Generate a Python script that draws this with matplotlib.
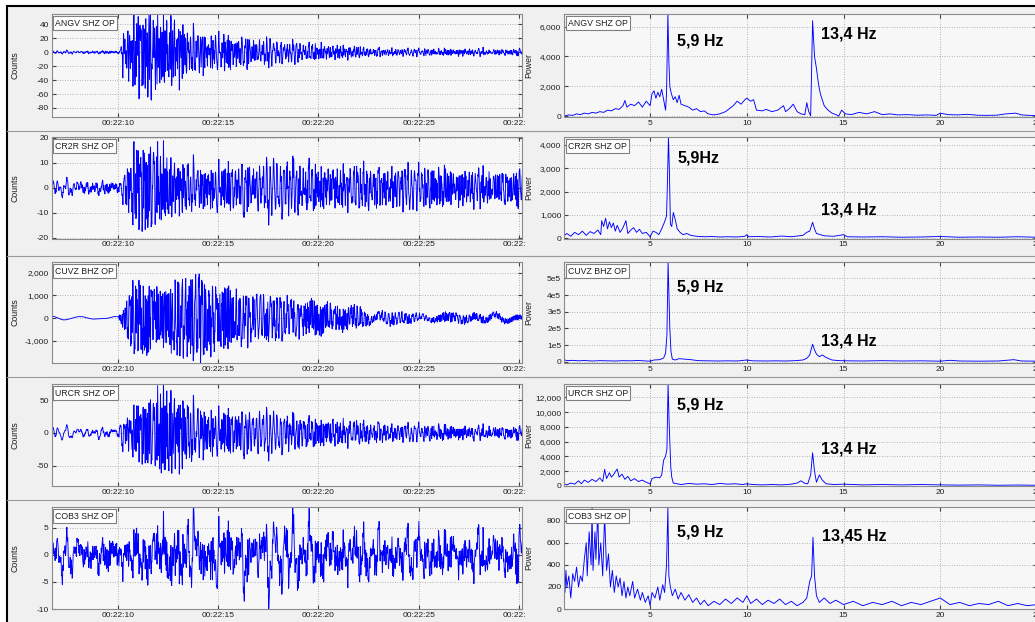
import numpy as np
import matplotlib
matplotlib.use("Agg")
import matplotlib.pyplot as plt
import matplotlib.transforms as mtransforms
from matplotlib.ticker import FixedLocator, FuncFormatter
from matplotlib.patches import Rectangle
from matplotlib.lines import Line2D

plt.rcParams['font.family'] = ['Liberation Sans', 'DejaVu Sans']
plt.rcParams['axes.unicode_minus'] = False

# ---------------------------------------------------------------- data
STATIONS = ["ANGV SHZ OP", "CR2R SHZ OP", "CUVZ BHZ OP", "URCR SHZ OP", "COB3 SHZ OP"]
PEAK_F1 = [5.9, 5.9, 5.9, 5.9, 5.9]
PEAK_F2 = [13.4, 13.4, 13.4, 13.4, 13.45]
PEAK_TXT1 = ["5,9 Hz", "5,9Hz", "5,9 Hz", "5,9 Hz", "5,9 Hz"]
PEAK_TXT2 = ["13,4 Hz", "13,4 Hz", "13,4 Hz", "13,4 Hz", "13,45 Hz"]

# time axis: seconds after 00:22:00
TIME_TICKS = [10, 15, 20, 25, 30]
FREQ_TICKS = [5, 10, 15, 20, 25]

COUNT_TICKS = [[-80, -60, -40, -20, 0, 20, 40],
               [-20, -10, 0, 10, 20],
               [-1000, 0, 1000, 2000],
               [-50, 0, 50],
               [-10, -5, 0, 5]]
POWER_TICKS = [[0, 2000, 4000, 6000],
               [0, 1000, 2000, 3000, 4000],
               [0, 1e5, 2e5, 3e5, 4e5, 5e5],
               [0, 2000, 4000, 6000, 8000, 10000, 12000],
               [0, 200, 400, 600, 800]]

# power spectra (frequency in Hz, power)
SPEC_ANGV = [(0.55, 0), (0.8, 80), (1.0, 50), (1.2, 150), (1.4, 100), (1.6, 200), (1.8, 150),
             (2.0, 250), (2.2, 200), (2.4, 300), (2.6, 250), (2.8, 400), (3.0, 350), (3.2, 500),
             (3.4, 450), (3.6, 700), (3.7, 1050), (3.8, 600), (4.0, 800), (4.2, 700), (4.4, 950),
             (4.6, 600), (4.8, 1000), (5.0, 700), (5.1, 1500), (5.2, 1700), (5.3, 1200), (5.4, 1600),
             (5.5, 1300), (5.6, 1800), (5.7, 1100), (5.8, 400), (5.85, 1500), (5.92, 6900),
             (5.97, 3700), (6.02, 2000), (6.1, 1500), (6.2, 1100), (6.3, 1300), (6.4, 900),
             (6.5, 1400), (6.6, 800), (6.8, 700), (7.0, 600), (7.2, 400), (7.4, 500), (7.6, 300),
             (7.8, 350), (8.0, 150), (8.3, 80), (8.6, 150), (8.9, 300), (9.1, 500), (9.3, 700),
             (9.5, 1000), (9.7, 800), (9.9, 1100), (10.0, 1200), (10.2, 1000), (10.35, 1100),
             (10.5, 400), (10.8, 350), (11.0, 450), (11.3, 300), (11.6, 400), (11.9, 700),
             (12.0, 300), (12.2, 500), (12.4, 800), (12.6, 300), (12.8, 150), (13.0, 100),
             (13.1, 900), (13.2, 300), (13.3, 20), (13.4, 6400), (13.5, 4000), (13.6, 3200),
             (13.7, 2200), (13.8, 1500), (14.0, 700), (14.2, 400), (14.4, 200), (14.6, 100),
             (14.75, 0), (14.9, 400), (15.1, 150), (15.4, 100), (15.8, 250), (16.2, 150),
             (16.6, 300), (17.0, 100), (17.4, 150), (17.8, 80), (18.3, 100), (18.8, 60),
             (19.3, 80), (19.8, 50), (20.0, 200), (20.4, 100), (20.9, 80), (21.4, 120),
             (21.9, 60), (22.4, 50), (22.9, 60), (23.4, 150), (23.9, 200), (24.2, 80),
             (24.6, 50), (25.0, 40)]
SPEC_CR2R = [(0.55, 100), (0.7, 200), (0.9, 80), (1.1, 250), (1.3, 150), (1.5, 300), (1.7, 120),
             (1.9, 280), (2.1, 200), (2.3, 350), (2.45, 150), (2.5, 750), (2.6, 500), (2.7, 850),
             (2.8, 400), (2.9, 700), (3.0, 450), (3.1, 650), (3.2, 300), (3.3, 550), (3.45, 250),
             (3.6, 450), (3.75, 750), (3.85, 200), (4.0, 350), (4.15, 450), (4.3, 250), (4.45, 380),
             (4.6, 200), (4.8, 250), (5.0, 60), (5.15, 300), (5.3, 250), (5.45, 150), (5.6, 400),
             (5.75, 700), (5.85, 950), (5.9, 2500), (5.95, 4340), (6.0, 2800), (6.05, 600),
             (6.12, 500), (6.2, 1100), (6.3, 800), (6.4, 400), (6.55, 250), (6.7, 150), (6.9, 200),
             (7.1, 120), (7.4, 80), (7.8, 60), (8.2, 70), (8.6, 50), (9.0, 60), (9.5, 50),
             (9.9, 80), (10.0, 150), (10.1, 60), (10.6, 70), (11.2, 50), (11.8, 90), (12.3, 60),
             (12.7, 100), (12.9, 120), (13.1, 250), (13.25, 300), (13.4, 680), (13.5, 400),
             (13.6, 200), (13.8, 150), (14.0, 100), (14.5, 80), (15.0, 150), (15.2, 60),
             (16.0, 50), (17.0, 60), (18.0, 40), (19.0, 50), (20.0, 70), (21.0, 40), (22.0, 50),
             (23.0, 40), (24.0, 60), (25.0, 40)]
SPEC_CUVZ = [(0.55, 12000), (0.7, 6000), (1.0, 8000), (1.3, 5000), (1.6, 7000), (2.0, 4000),
             (2.4, 6000), (2.8, 5000), (3.2, 4000), (3.6, 6000), (4.0, 5000), (4.4, 7000),
             (4.8, 4000), (5.0, 3000), (5.2, 10000), (5.5, 12000), (5.7, 22000), (5.8, 50000),
             (5.87, 160000), (5.93, 598000), (5.97, 420000), (6.02, 200000), (6.08, 60000),
             (6.15, 15000), (6.3, 10000), (6.5, 18000), (6.8, 15000), (7.1, 12000), (7.5, 6000),
             (8.0, 5000), (8.5, 4000), (9.0, 5000), (9.5, 4000), (10.0, 10000), (10.3, 5000),
             (11.0, 4000), (11.5, 5000), (12.0, 4000), (12.5, 6000), (12.9, 10000), (13.1, 20000),
             (13.25, 40000), (13.4, 105000), (13.5, 70000), (13.6, 45000), (13.75, 30000),
             (13.9, 40000), (14.1, 25000), (14.4, 10000), (14.8, 6000), (15.2, 5000), (16.0, 4000),
             (17.0, 6000), (18.0, 4000), (19.0, 5000), (20.0, 3000), (20.5, 8000), (21.0, 4000),
             (22.0, 3000), (23.0, 4000), (23.8, 12000), (24.2, 4000), (25.0, 3000)]
SPEC_URCR = [(0.55, 300), (0.7, 150), (0.9, 400), (1.1, 250), (1.3, 700), (1.45, 300), (1.6, 800),
             (1.8, 500), (2.0, 900), (2.2, 600), (2.4, 1100), (2.55, 600), (2.65, 2250),
             (2.75, 1000), (2.9, 1800), (3.0, 1200), (3.1, 1500), (3.3, 2300), (3.4, 1200),
             (3.55, 1600), (3.7, 900), (3.85, 1300), (4.0, 700), (4.2, 1000), (4.4, 600),
             (4.6, 800), (4.8, 500), (5.0, 300), (5.1, 1000), (5.3, 1200), (5.5, 1100),
             (5.6, 1500), (5.7, 3500), (5.8, 4000), (5.87, 5000), (5.93, 13800), (5.98, 9000),
             (6.02, 6000), (6.07, 2500), (6.12, 1200), (6.2, 400), (6.4, 300), (6.6, 200),
             (7.0, 350), (7.4, 250), (7.8, 300), (8.2, 200), (8.6, 350), (9.0, 250), (9.4, 300),
             (9.8, 200), (10.0, 300), (10.3, 200), (10.8, 150), (11.3, 200), (11.8, 150),
             (12.3, 250), (12.6, 400), (12.8, 700), (13.0, 350), (13.15, 300), (13.3, 1500),
             (13.4, 4500), (13.5, 2000), (13.6, 500), (13.75, 1500), (13.9, 800), (14.1, 300),
             (14.5, 200), (15.0, 250), (16.0, 150), (17.0, 200), (18.0, 150), (19.0, 200),
             (20.0, 150), (21.0, 120), (22.0, 150), (23.0, 100), (24.0, 130), (25.0, 100)]
SPEC_COB3 = [(0.55, 550), (0.6, 150), (0.65, 350), (0.7, 200), (0.8, 300), (0.9, 100), (1.0, 320),
             (1.1, 250), (1.2, 380), (1.3, 200), (1.4, 300), (1.5, 250), (1.6, 450), (1.7, 600),
             (1.75, 300), (1.85, 700), (1.95, 400), (2.0, 920), (2.05, 350), (2.15, 700),
             (2.2, 450), (2.3, 900), (2.35, 400), (2.45, 600), (2.55, 300), (2.65, 850),
             (2.75, 350), (2.85, 500), (2.95, 200), (3.05, 350), (3.15, 150), (3.25, 300),
             (3.35, 200), (3.45, 280), (3.55, 120), (3.65, 250), (3.75, 100), (3.85, 200),
             (3.95, 120), (4.1, 250), (4.2, 100), (4.35, 180), (4.5, 80), (4.6, 150), (4.75, 60),
             (4.9, 120), (5.0, 30), (5.1, 150), (5.25, 100), (5.4, 200), (5.5, 80), (5.65, 220),
             (5.75, 150), (5.85, 400), (5.92, 920), (5.97, 300), (6.05, 200), (6.15, 120),
             (6.3, 180), (6.45, 90), (6.6, 150), (6.8, 80), (7.0, 130), (7.2, 60), (7.4, 100),
             (7.6, 40), (7.8, 80), (8.0, 30), (8.3, 70), (8.6, 40), (8.9, 90), (9.2, 50),
             (9.5, 100), (9.8, 60), (10.0, 120), (10.2, 50), (10.5, 90), (10.8, 40), (11.1, 80),
             (11.4, 50), (11.7, 90), (12.0, 40), (12.3, 70), (12.6, 30), (12.9, 60), (13.1, 100),
             (13.25, 250), (13.35, 300), (13.42, 650), (13.5, 300), (13.6, 120), (13.75, 60),
             (14.0, 100), (14.3, 50), (14.6, 80), (15.0, 40), (15.5, 70), (16.0, 30), (16.5, 60),
             (17.0, 40), (17.5, 70), (18.0, 30), (18.5, 60), (19.0, 40), (19.5, 70), (20.0, 100),
             (20.5, 40), (21.0, 60), (21.5, 30), (22.0, 50), (22.5, 40), (23.0, 70), (23.5, 30),
             (24.0, 50), (24.5, 30), (25.0, 40)]
SPECTRA = [SPEC_ANGV, SPEC_CR2R, SPEC_CUVZ, SPEC_URCR, SPEC_COB3]

# amplitude envelopes of the seismograms (seconds after 00:22:00, counts)
# "low" = long-period band, "high" = band around the dominant frequencies
LOW_ENV_ANGV = [(6.7, 2), (30.2, 2)]
HIGH_ENV_ANGV = [(6.7, 2), (10.1, 2), (10.25, 35), (10.6, 45), (11.2, 60), (11.6, 70), (12.2, 50),
                 (13.0, 50), (13.8, 45), (14.5, 35), (15.2, 30), (16.0, 25), (17.0, 20), (18.0, 17),
                 (19.0, 15), (20.0, 13), (21.0, 11), (22.0, 9), (23.0, 7), (24.0, 6), (26.0, 5),
                 (28.0, 5), (30.2, 4)]
LOW_ENV_CR2R = [(6.7, 3), (10.2, 3), (11.0, 4), (15.0, 3), (30.2, 2)]
HIGH_ENV_CR2R = [(6.7, 2), (10.2, 2), (10.4, 10), (10.8, 15), (11.3, 18), (11.8, 20), (12.4, 15),
                 (13.0, 11), (14.0, 11), (15.0, 10), (18.0, 10), (21.0, 9), (24.0, 9), (27.0, 8),
                 (30.2, 7)]
LOW_ENV_CUVZ = [(6.7, 150), (10.0, 150), (20.0, 150), (30.2, 200)]
HIGH_ENV_CUVZ = [(6.7, 0), (10.0, 0), (10.3, 500), (10.7, 1600), (11.2, 1800), (11.7, 1500),
                 (12.3, 1300), (13.0, 1800), (13.7, 2100), (14.3, 1800), (15.0, 1500), (16.0, 1300),
                 (17.0, 1100), (18.0, 950), (19.0, 800), (20.0, 700), (21.0, 600), (22.0, 500),
                 (22.8, 150), (23.5, 300), (24.5, 250), (25.5, 100), (26.5, 250), (27.5, 200),
                 (28.5, 150), (30.2, 100)]
LOW_ENV_URCR = [(6.7, 12), (10.2, 12), (12.0, 10), (30.2, 5)]
HIGH_ENV_URCR = [(6.7, 3), (10.0, 3), (10.3, 25), (10.8, 35), (11.3, 50), (11.8, 65), (12.2, 75),
                 (12.8, 65), (13.5, 55), (14.2, 45), (15.0, 38), (16.0, 35), (17.0, 30), (18.0, 28),
                 (19.0, 25), (20.0, 22), (21.0, 20), (22.0, 18), (23.0, 15), (24.0, 13), (25.0, 12),
                 (27.0, 10), (30.2, 8)]
LOW_ENV_COB3 = [(6.7, 3.5), (10.0, 3), (11.0, 3.5), (12.0, 5), (13.0, 6), (14.0, 6.5), (15.0, 6),
                (16.0, 5), (18.0, 4.5), (20.0, 4.5), (25.0, 4), (30.2, 4)]
HIGH_ENV_COB3 = [(6.7, 2.5), (10.0, 2.5), (12.0, 4), (14.0, 5), (16.0, 4), (20.0, 3.5),
                 (30.2, 3)]
LOW_ENVS = [LOW_ENV_ANGV, LOW_ENV_CR2R, LOW_ENV_CUVZ, LOW_ENV_URCR, LOW_ENV_COB3]
HIGH_ENVS = [HIGH_ENV_ANGV, HIGH_ENV_CR2R, HIGH_ENV_CUVZ, HIGH_ENV_URCR, HIGH_ENV_COB3]
BAND_SPLIT = [4.5, 4.5, 1.2, 4.5, 4.5]      # Hz
REGULARITY = [0.3, 0.5, 0.7, 0.5, 0.2]      # how strongly the high band follows its envelope

SAMPLE_RATE = 100.0
T_START, T_END = 6.7, 30.2


# ---------------------------------------------------------------- synthesis
def band_carrier(spec, t, fmin, fmax):
    """Sum of cosines whose amplitudes follow the power spectrum in [fmin, fmax)."""
    f_sp, p_sp = (np.asarray(v, float) for v in zip(*spec))
    fg = np.arange(0.5, 25.0, 0.02)
    fg = fg[(fg >= fmin) & (fg < fmax)]
    amp = np.sqrt(np.clip(np.interp(fg, f_sp, p_sp), 0, None))
    k = np.arange(fg.size, dtype=float)
    phase = 2 * np.pi * np.modf(k ** 3 * 0.00713 + k ** 2 * 0.1131)[0]
    return (amp[:, None] * np.cos(2 * np.pi * fg[:, None] * t[None, :] + phase[:, None])).sum(0)


def analytic_envelope(x):
    n = x.size
    h = np.zeros(n)
    h[0] = 1
    if n % 2 == 0:
        h[n // 2] = 1
        h[1:n // 2] = 2
    else:
        h[1:(n + 1) // 2] = 2
    return np.abs(np.fft.ifft(np.fft.fft(x) * h))


def normalise(c, power):
    if power > 0:
        c = c / analytic_envelope(c) ** power
    return c / np.percentile(np.abs(c), 98.5)


def envelope(points, t):
    tt, aa = (np.asarray(v, float) for v in zip(*points))
    return np.interp(t, tt, aa)


def seismogram(i, t):
    spec = SPECTRA[i]
    split = BAND_SPLIT[i]
    lo = normalise(band_carrier(spec, t, 0.0, split), 0.0)
    hi = normalise(band_carrier(spec, t, split, 25.0), REGULARITY[i])
    return envelope(LOW_ENVS[i], t) * lo + envelope(HIGH_ENVS[i], t) * hi


# ---------------------------------------------------------------- layout
W, H = 1035, 622
fig = plt.figure(figsize=(W / 100, H / 100), dpi=100, facecolor='white')
BG = '#f0f0f0'

# panel background and outer border
fig.patches.append(Rectangle((7 / W, 0), 1 - 7 / W, 1 - 6 / H, transform=fig.transFigure,
                             facecolor=BG, edgecolor='none', zorder=-10))
fig.lines.append(Line2D([7 / W, 7 / W], [0, 1 - 6 / H], transform=fig.transFigure,
                        color='black', lw=1.5))
fig.lines.append(Line2D([7 / W, 1], [1 - 6 / H, 1 - 6 / H], transform=fig.transFigure,
                        color='black', lw=1.5))
for ysep in [131, 256, 377, 500]:
    fig.lines.append(Line2D([7 / W, 1], [1 - ysep / H] * 2, transform=fig.transFigure,
                            color='#9a9a9a', lw=0.8))

ROW_TOP = [14, 137, 262, 384, 507]
ROW_BOT = [117, 238.5, 363, 486, 609]
LEFT_X = (51.5, 522)
RIGHT_X = (564, 1037)
COUNT_LIM = [(-93, 55), (-20.2, 20.3), (-1980, 2470), (-81, 74.4), (-10, 8.8)]
POWER_LIM = [(-60, 6850), (-15, 4340), (-8000, 5.98e5), (0, 13800), (0, 925)]
TXT1_Y = [41, 158, 287, 405, 532]
TXT2_Y = [34, 210, 341, 449, 536]

BLUE = '#0000ff'
GRID = dict(color='#9c9c9c', linestyle=(0, (1, 2)), linewidth=0.6)


def px_axes(x0, x1, y0, y1, z=0):
    return fig.add_axes([x0 / W, 1 - y1 / H, (x1 - x0) / W, (y1 - y0) / H], zorder=z)


def style(ax):
    ax.set_facecolor('#f7f7f7')
    for s in ax.spines.values():
        s.set_color('#8a8a8a')
        s.set_linewidth(0.8)
    ax.tick_params(axis='both', labelsize=6, length=3, width=0.8, color='#404040', pad=2,
                   direction='in', top=True, right=True, labelcolor='#202020')
    ax.grid(True, **GRID)
    ax.set_axisbelow(True)


def station_box(ax, name):
    ax.text(0.008, 0.955, name, transform=ax.transAxes, ha='left', va='top', fontsize=6.3,
            color='#202020', zorder=5,
            bbox=dict(boxstyle='square,pad=0.25', facecolor='white', edgecolor='#808080', lw=0.8))


time_fmt = FuncFormatter(lambda v, p: "00:22:%02d" % int(round(v)))
thousands = FuncFormatter(lambda v, p: "{:,.0f}".format(v))
sci_fmt = FuncFormatter(lambda v, p: "0" if v == 0 else "%de5" % int(round(v / 1e5)))

t = np.arange(T_START, T_END, 1.0 / SAMPLE_RATE)

# strip between the two columns, hides text spilling over from the left column
cover = px_axes(525, 560, 6, 622, z=1)
cover.set_facecolor(BG)
cover.set_xticks([])
cover.set_yticks([])
for s in cover.spines.values():
    s.set_visible(False)
for ysep in [131, 256, 377, 500]:
    cover.axhline((622 - ysep) / 616, color='#9a9a9a', lw=0.8)
cover.set_ylim(0, 1)

for i in range(5):
    # seismogram
    ax = px_axes(LEFT_X[0], LEFT_X[1], ROW_TOP[i], ROW_BOT[i], z=0)
    style(ax)
    ax.plot(t, seismogram(i, t), color=BLUE, lw=0.65)
    ax.set_xlim(T_START, 30.15)
    ax.set_ylim(*COUNT_LIM[i])
    ax.xaxis.set_major_locator(FixedLocator(TIME_TICKS))
    ax.xaxis.set_major_formatter(time_fmt)
    ax.yaxis.set_major_locator(FixedLocator(COUNT_TICKS[i]))
    ax.yaxis.set_major_formatter(thousands)
    ax.set_ylabel("Counts", fontsize=6.3, color='#202020')
    ax.yaxis.set_label_coords((19.5 - LEFT_X[0]) / (LEFT_X[1] - LEFT_X[0]), 0.5)
    station_box(ax, STATIONS[i])

    # spectrum
    ax2 = px_axes(RIGHT_X[0], RIGHT_X[1], ROW_TOP[i], ROW_BOT[i], z=2)
    style(ax2)
    f_sp, p_sp = zip(*SPECTRA[i])
    ax2.plot(f_sp, p_sp, color=BLUE, lw=0.65)
    ax2.set_xlim(0.55, 25.0)
    ax2.set_ylim(*POWER_LIM[i])
    ax2.xaxis.set_major_locator(FixedLocator(FREQ_TICKS))
    ax2.xaxis.set_major_formatter(FuncFormatter(lambda v, p: "%d" % v))
    ax2.yaxis.set_major_locator(FixedLocator(POWER_TICKS[i]))
    ax2.yaxis.set_major_formatter(sci_fmt if i == 2 else thousands)
    ax2.set_ylabel("Power", fontsize=6.3, color='#202020')
    ax2.yaxis.set_label_coords((533.5 - RIGHT_X[0]) / (RIGHT_X[1] - RIGHT_X[0]), 0.5)
    station_box(ax2, STATIONS[i])

    h = ROW_BOT[i] - ROW_TOP[i]
    trans = mtransforms.blended_transform_factory(ax2.transData, ax2.transAxes)
    ax2.text(PEAK_F1[i] + 0.5, (ROW_BOT[i] - TXT1_Y[i]) / h, PEAK_TXT1[i], transform=trans,
             ha='left', va='center', fontsize=11.5, fontweight='bold', color='black')
    ax2.text(PEAK_F2[i] + 0.45, (ROW_BOT[i] - TXT2_Y[i]) / h, PEAK_TXT2[i], transform=trans,
             ha='left', va='center', fontsize=11.5, fontweight='bold', color='black')

fig.savefig("out.png", dpi=100, facecolor=fig.get_facecolor())
